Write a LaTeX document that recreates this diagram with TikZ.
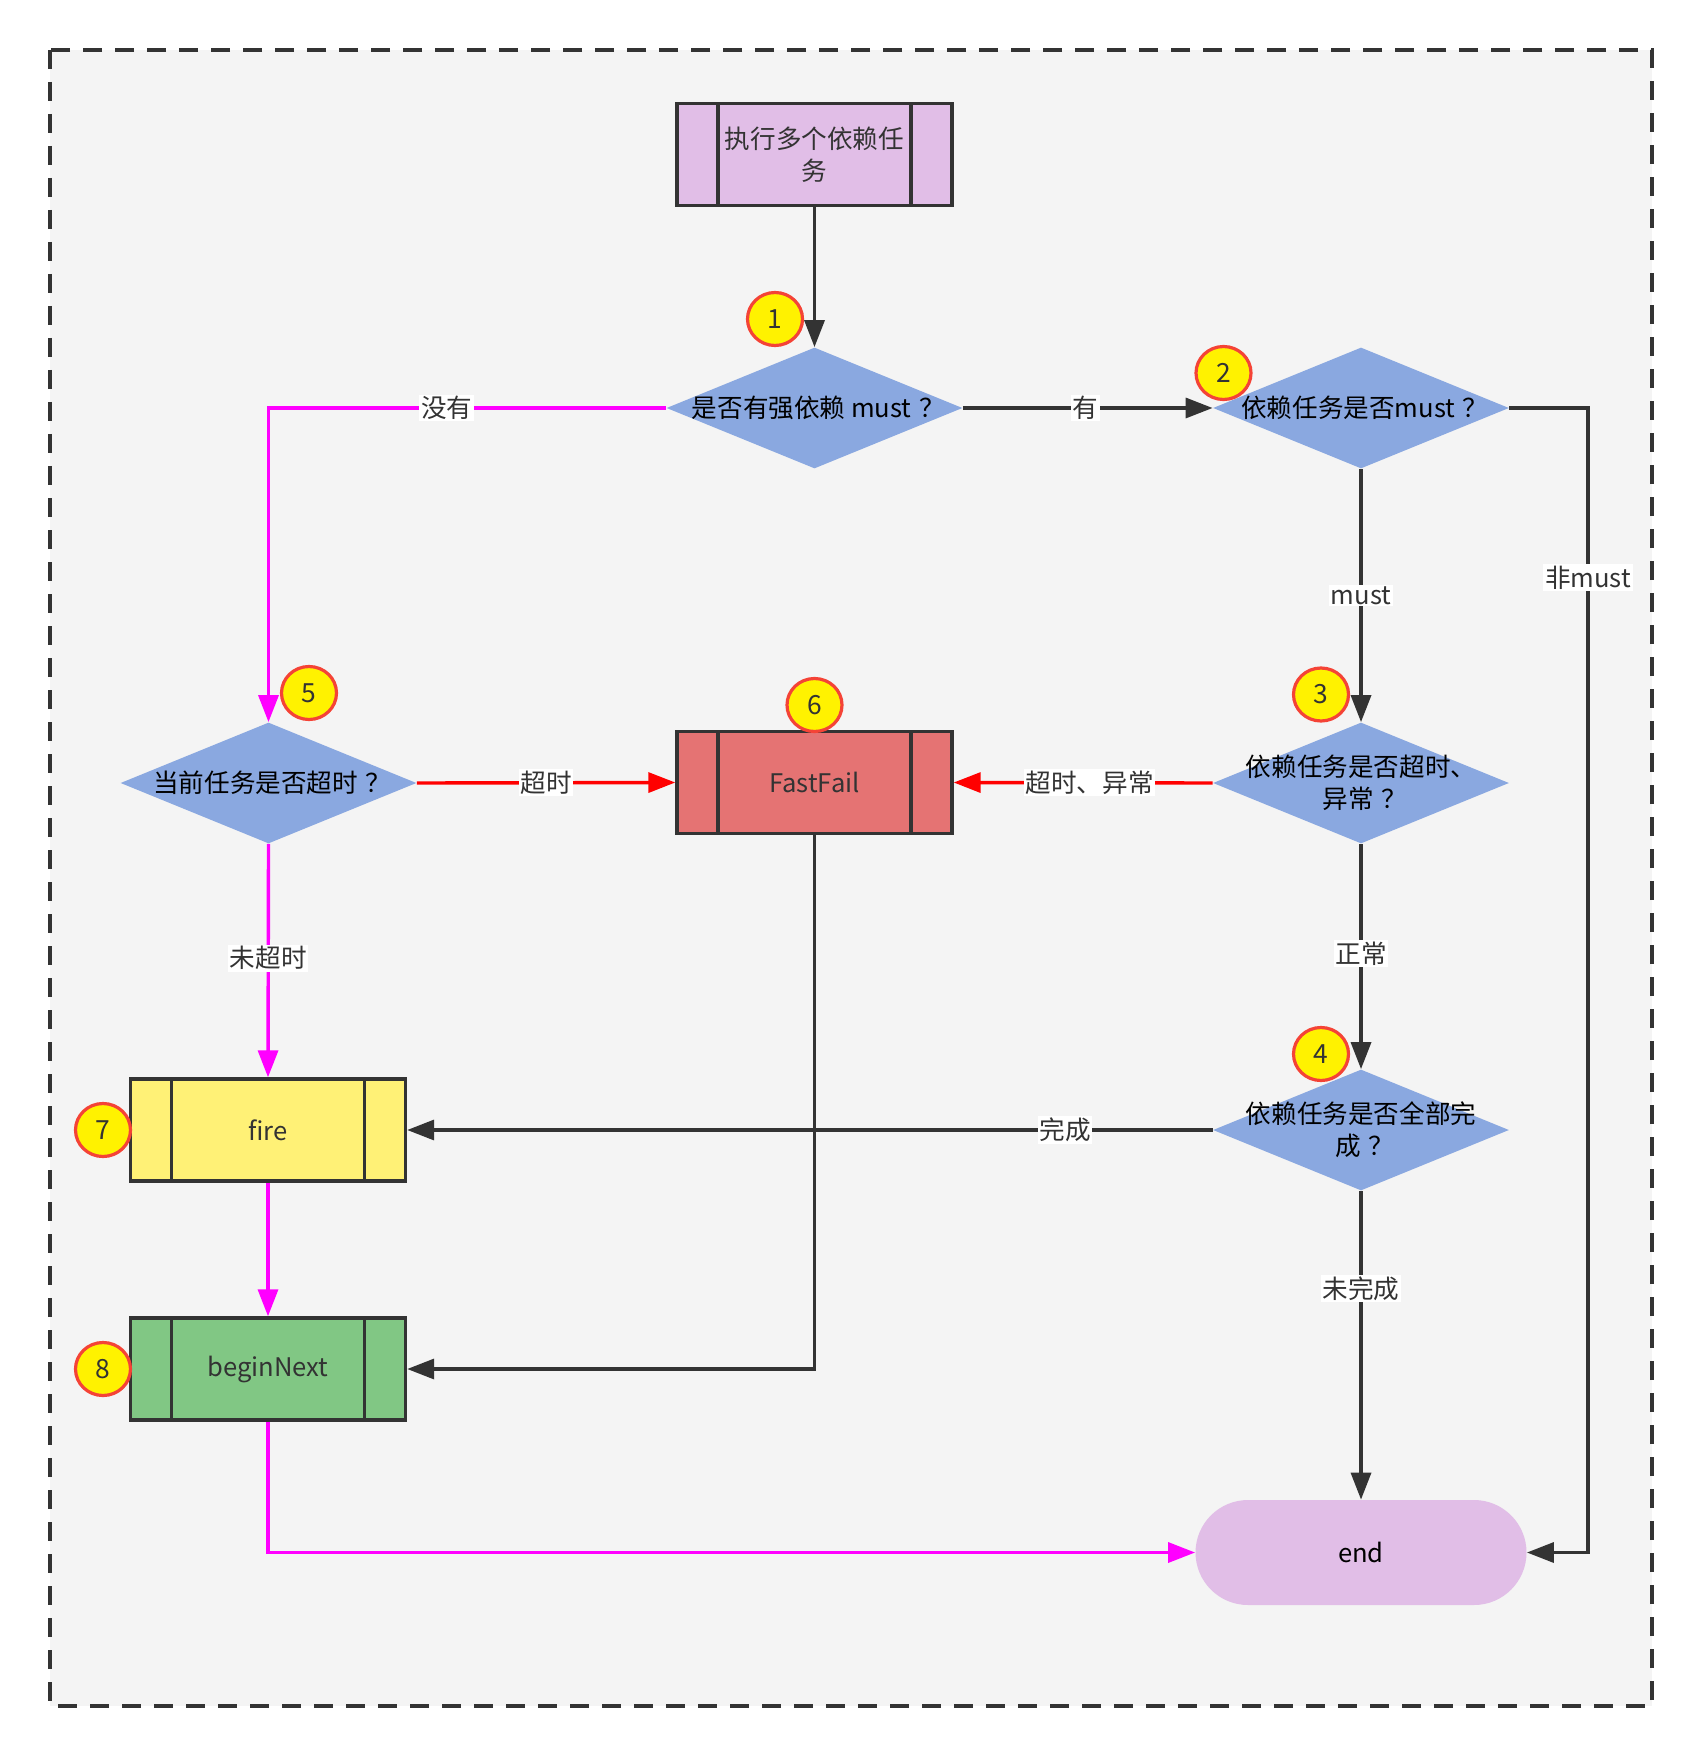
\documentclass[tikz,border=0pt]{standalone}
\usepackage{fontspec}
\setmainfont{Noto Sans CJK SC}
\usetikzlibrary{shapes.geometric,arrows.meta,calc}
\definecolor{dk}{HTML}{333333}
\definecolor{bgc}{HTML}{F4F4F4}
\definecolor{purp}{HTML}{E1BEE7}
\definecolor{diac}{HTML}{8AA8E0}
\definecolor{ffc}{HTML}{E57373}
\definecolor{firec}{HTML}{FFF176}
\definecolor{bnc}{HTML}{81C784}
\definecolor{circr}{HTML}{F44336}
\definecolor{mag}{HTML}{FF00FF}
\definecolor{rd}{HTML}{FF0000}
\newcommand\fq{\kern0.3em？\kern-0.3em}
\tikzset{
  proc/.style={draw=dk, line width=1.7pt, minimum width=137.5pt, minimum height=51pt,
    inner sep=0pt, text=dk, align=center,
    path picture={\draw[dk, line width=1.7pt]
      ([xshift=20.5pt]path picture bounding box.north west) -- ([xshift=20.5pt]path picture bounding box.south west)
      ([xshift=-20.5pt]path picture bounding box.north east) -- ([xshift=-20.5pt]path picture bounding box.south east);}},
  dia/.style={diamond, fill=diac, minimum width=148pt, minimum height=60.5pt, inner sep=0pt},
  dtxt/.style={text=black, align=center, inner sep=0pt},
  circ/.style={ellipse, draw=circr, fill=yellow, line width=1.6pt, minimum width=27.5pt,
    minimum height=26.5pt, inner sep=0pt, text=dk, font=\fontsize{13.2pt}{16pt}\selectfont},
  lbl/.style={fill=white, text=dk, inner sep=0.8pt},
  tip/.style={-{Triangle[length=13.5pt,width=10pt]}},
  edk/.style={draw=dk, line width=1.7pt, tip},
  emg/.style={draw=mag, line width=1.7pt, tip},
  erd/.style={draw=rd, line width=1.7pt, tip},
}
\begin{document}
\begin{tikzpicture}[x=0.5pt,y=-0.5pt,
  every node/.append style={font=\fontsize{12.8pt}{16pt}\selectfont}]
\useasboundingbox (0,0) rectangle (1702,1754);
\fill[white] (0,0) rectangle (1702,1754);
\draw[dk, line width=1.7pt, dash pattern=on 9.5pt off 6.5pt, fill=bgc] (50,50) rectangle (1652,1706);

% nodes
\node[proc, fill=purp] (start) at (814.5,154.5) {执行多个依赖任\\务};
\node[dia] (d1) at (814.5,408) {};
\node[dtxt] (d1t) at (d1) {是否有强依赖 must\fq};
\node[dia] (d2) at (1361,408) {};
\node[dtxt] (d2t) at (d2) {依赖任务是否must\fq};
\node[dia] (d3) at (1361,783) {};
\node[dtxt] (d3t) at (d3) {依赖任务是否超时、\\异常\fq};
\node[dia] (d5) at (268.5,783) {};
\node[dtxt] (d5t) at (d5) {当前任务是否超时\fq};
\node[dia] (d4) at (1361,1130) {};
\node[dtxt] (d4t) at (d4) {依赖任务是否全部完\\成\fq};
\node[proc, fill=ffc] (ff) at (814.5,782.5) {FastFail};
\node[proc, fill=firec] (fire) at (268,1130) {fire};
\node[proc, fill=bnc] (bn) at (268,1369) {beginNext};
\node[fill=purp, rounded corners=26.25pt, minimum width=165.5pt, minimum height=52.5pt,
  inner sep=0pt, text=black] (end) at (1361,1552.5) {end};

% numbered markers
\node[circ] (c1) at (775,319) {1};
\node[circ] (c2) at (1223.5,373) {2};
\node[circ] (c3) at (1321,694.5) {3};
\node[circ] (c4) at (1321,1054) {4};
\node[circ] (c5) at (309,693) {5};
\node[circ] (c6) at (814.5,705) {6};
\node[circ] (c7) at (103,1130) {7};
\node[circ] (c8) at (103,1369) {8};

% connectors
\coordinate (nm) at (1588,408);
\draw[edk] (start.south) -- (d1.north);
\draw[emg] (d1.west) -| node[lbl, pos=0.276] {没有} (d5.north);
\draw[edk] (d1.east) -- node[lbl, pos=0.49] {有} (d2.west);
\draw[edk] (d2.east) -- (nm) -- node[lbl, pos=0.148] {非must} (nm |- end.east) -- (end.east);
\draw[edk] (d2.south) -- node[lbl] {must} (d3.north);
\draw[erd] (d3.west) -- node[lbl, pos=0.475] {超时、异常} (ff.east);
\draw[erd] (d5.east) -- node[lbl] {超时} (ff.west);
\draw[edk] (d3.south) -- node[lbl, pos=0.488] {正常} (d4.north);
\draw[emg] (d5.south) -- node[lbl, pos=0.49] {未超时} (fire.north);
\draw[edk] (d4.west) -- node[lbl, pos=0.183] {完成} (fire.east);
\draw[edk] (d4.south) -- node[lbl, pos=0.317] {未完成} (end.north);
\draw[emg] (fire.south) -- (bn.north);
\draw[edk] (ff.south) |- (bn.east);
\draw[emg] (bn.south) |- (end.west);
\end{tikzpicture}
\end{document}
